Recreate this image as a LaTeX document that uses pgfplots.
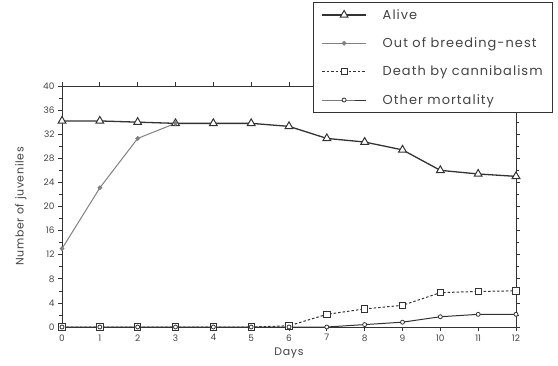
\documentclass[border=0pt]{standalone}
\usepackage{fontspec}
\setmainfont{Poppins}
\newfontfamily\legfont{Poppins}[LetterSpace=8]
\newfontfamily\labfont{Poppins}[LetterSpace=6]
\usepackage{pgfplots}
\pgfplotsset{compat=1.18}
\definecolor{ink}{HTML}{333333}
\definecolor{txt}{HTML}{444444}
\begin{document}
\begin{tikzpicture}
\useasboundingbox (0bp,0bp) rectangle (558bp,366bp);
\begin{axis}[
  at={(62bp,39bp)}, anchor=south west,
  scale only axis, width=454bp, height=241bp,
  xmin=0, xmax=12, ymin=0, ymax=40,
  xtick={0,...,12}, ytick={0,4,...,40},
  minor y tick num=1,
  tick align=outside,
  major tick length=4bp, minor tick length=2.5bp,
  axis line style={draw=ink, line width=1pt},
  every tick/.style={draw=ink, line width=0.7pt},
  tick label style={font=\fontsize{9}{10}\selectfont, text=txt},
  /pgf/number format/assume math mode=true,
  xlabel={Days}, ylabel={Number of juveniles},
  label style={font=\labfont\fontsize{11}{13}\selectfont, text=txt},
  xlabel style={yshift=0bp},
  ylabel style={yshift=10bp},
  legend style={at={(0.553,1.349)}, anchor=north west, draw=ink, line width=0.8pt,
    fill=white, font=\legfont\fontsize{13}{15}\selectfont, text=txt,
    row sep=13bp, inner xsep=8bp, inner ysep=5bp,
    /tikz/every odd column/.append style={column sep=14bp}},
  legend cell align=left,
  legend image code/.code={\draw[mark repeat=2,mark phase=2] plot coordinates {(0bp,0bp)(22bp,0bp)(44bp,0bp)};},
]
\addplot[color=ink, line width=1.3pt, mark=triangle*, mark size=4.5bp, mark options={fill=white, line width=1pt}]
coordinates {(0,34.2)(1,34.2)(2,34)(3,33.8)(4,33.8)(5,33.8)(6,33.3)(7,31.3)(8,30.7)(9,29.4)(10,26)(11,25.4)(12,25)};
\addlegendentry{Alive}
\addplot[color=gray, line width=1pt, mark=*, mark size=1.8bp]
coordinates {(0,13)(1,23.1)(2,31.3)(3,33.8)};
\addlegendentry{Out of breeding-nest}
\addplot[color=ink, line width=1pt, dashed, dash pattern=on 2.5pt off 2pt, mark=square*, mark size=3.2bp, mark options={solid, fill=white, line width=0.8pt}]
coordinates {(0,0)(1,0)(2,0)(3,0)(4,0)(5,0)(6,0.2)(7,2.1)(8,3)(9,3.6)(10,5.7)(11,5.9)(12,6)};
\addlegendentry{Death by cannibalism}
\addplot[color=ink, line width=1pt, mark=*, mark size=2bp, mark options={fill=white, line width=0.8pt}]
coordinates {(0,0)(1,0)(2,0)(3,0)(4,0)(5,0)(6,0)(7,0)(8,0.4)(9,0.8)(10,1.7)(11,2.1)(12,2.1)};
\addlegendentry{Other mortality}
\end{axis}
\end{tikzpicture}
\end{document}
